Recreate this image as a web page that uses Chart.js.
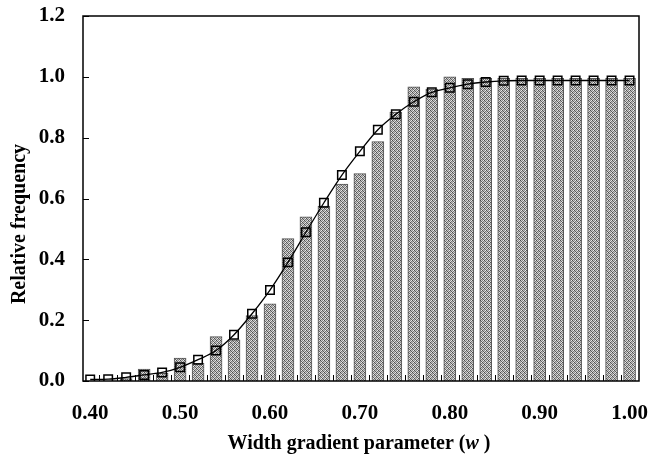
<!DOCTYPE html>
<html>
<head>
<meta charset="utf-8">
<script src="https://cdn.jsdelivr.net/npm/chart.js@4.4.1/dist/chart.umd.min.js"></script>
<style>
    html, body { margin: 0; padding: 0; background: #fff; }
    #wrap { width: 649px; height: 455px; }
</style>
</head>
<body>
<div id="wrap"><canvas id="myChart" width="649" height="455"></canvas></div>
<script>
// width gradient parameter w, one bar per class
const widths = [0.40, 0.42, 0.44, 0.46, 0.48, 0.50, 0.52, 0.54, 0.56, 0.58,
                0.60, 0.62, 0.64, 0.66, 0.68, 0.70, 0.72, 0.74, 0.76, 0.78,
                0.80, 0.82, 0.84, 0.86, 0.88, 0.90, 0.92, 0.94, 0.96, 0.98, 1.00];

// bars: observed relative frequency
const observed = [0.000, 0.000, 0.008, 0.039, 0.025, 0.075, 0.058, 0.146, 0.135, 0.215,
                  0.254, 0.468, 0.540, 0.575, 0.647, 0.682, 0.787, 0.884, 0.967, 0.960,
                  1.000, 0.995, 0.995, 0.995, 0.995, 0.995, 0.995, 0.995, 0.995, 0.995, 0.995];

// line with squares: fitted curve
const fitted = [0.005, 0.006, 0.012, 0.020, 0.028, 0.045, 0.070, 0.100, 0.152, 0.221,
                0.299, 0.390, 0.489, 0.586, 0.677, 0.755, 0.826, 0.877, 0.918, 0.949,
                0.964, 0.976, 0.983, 0.987, 0.988, 0.988, 0.988, 0.988, 0.988, 0.988, 0.988];

const xTickLabels = ['0.40', '0.50', '0.60', '0.70', '0.80', '0.90', '1.00'];
const yTicks = [0.0, 0.2, 0.4, 0.6, 0.8, 1.0, 1.2];

const yTitle = 'Relative frequency';
const xTitle = ['Width gradient parameter (', 'w', ' )'];

const FONT = '"Liberation Serif", "Times New Roman", serif';

const ctx = document.getElementById('myChart').getContext('2d');

// dithered grey for the bars
const shades = ['#4a4a4a', '#cfcfcf', '#8a8a8a', '#e8e8e8',
                '#b8b8b8', '#666666', '#dcdcdc', '#7c7c7c',
                '#909090', '#ececec', '#505050', '#c2c2c2',
                '#d6d6d6', '#767676', '#bcbcbc', '#5e5e5e'];
const pc = document.createElement('canvas');
pc.width = 4;
pc.height = 4;
const pctx = pc.getContext('2d');
shades.forEach((s, i) => {
    pctx.fillStyle = s;
    pctx.fillRect(i % 4, Math.floor(i / 4), 1, 1);
});
const barFill = ctx.createPattern(pc, 'repeat');

// frame, inward ticks and axis titles
const framePlugin = {
    id: 'frame',
    afterDraw(chart) {
        const c = chart.ctx;
        const a = chart.chartArea;
        const xs = chart.scales.x;
        const ys = chart.scales.y;
        c.save();
        c.strokeStyle = '#000';
        c.lineWidth = 1.5;
        c.strokeRect(a.left, a.top, a.right - a.left, a.bottom - a.top);

        c.lineWidth = 1;
        c.beginPath();
        for (let i = 0; i < widths.length - 1; i++) {
            const px = Math.round(xs.getPixelForValue((widths[i] + widths[i + 1]) / 2)) + 0.5;
            c.moveTo(px, a.bottom);
            c.lineTo(px, a.bottom - 6);
        }
        yTicks.forEach(v => {
            const py = Math.round(ys.getPixelForValue(v)) + 0.5;
            c.moveTo(a.left, py);
            c.lineTo(a.left + 6, py);
        });
        c.stroke();

        c.fillStyle = '#000';
        c.font = 'bold 20px ' + FONT;
        c.textAlign = 'center';
        c.textBaseline = 'middle';
        c.save();
        c.translate(20, 224);
        c.rotate(-Math.PI / 2);
        c.fillText(yTitle, 0, 0);
        c.restore();

        const fonts = ['bold 20px ' + FONT, 'italic bold 20px ' + FONT, 'bold 20px ' + FONT];
        let total = 0;
        const ws = xTitle.map((t, i) => {
            c.font = fonts[i];
            const w = c.measureText(t).width;
            total += w;
            return w;
        });
        let x = 359 - total / 2;
        c.textAlign = 'left';
        xTitle.forEach((t, i) => {
            c.font = fonts[i];
            c.fillText(t, x, 444);
            x += ws[i];
        });
        c.restore();
    }
};

const myChart = new Chart(ctx, {
    type: 'bar',
    data: {
        datasets: [{
            type: 'line',
            label: 'fitted',
            data: widths.map((w, i) => ({ x: w, y: fitted[i] })),
            borderColor: '#000',
            borderWidth: 1.3,
            cubicInterpolationMode: 'monotone',
            pointStyle: 'rect',
            pointRadius: 6,
            pointBorderWidth: 1.5,
            pointBorderColor: '#000',
            pointBackgroundColor: 'rgba(0,0,0,0)',
            fill: false,
            order: 0,
            xAxisID: 'x',
            yAxisID: 'y'
        }, {
            type: 'bar',
            label: 'observed',
            data: widths.map((w, i) => ({ x: w, y: observed[i] })),
            backgroundColor: barFill,
            borderColor: '#555',
            borderWidth: 1,
            barThickness: 12,
            order: 1,
            xAxisID: 'x',
            yAxisID: 'y'
        }]
    },
    options: {
        responsive: false,
        animation: false,
        devicePixelRatio: 1,
        layout: { padding: { left: 0, right: 10, top: 16, bottom: 0 } },
        plugins: {
            legend: { display: false },
            tooltip: { enabled: false }
        },
        scales: {
            x: {
                type: 'linear',
                min: 0.392,
                max: 1.0105,
                offset: false,
                grid: { display: false, drawTicks: false, offset: false },
                border: { display: false },
                afterBuildTicks: scale => {
                    scale.ticks = xTickLabels.map(v => ({ value: parseFloat(v) }));
                },
                afterFit: scale => {
                    scale.height = 74;
                    scale.paddingLeft = 0;
                    scale.paddingRight = 0;
                },
                ticks: {
                    padding: 20,
                    maxRotation: 0,
                    autoSkip: false,
                    color: '#000',
                    font: { family: FONT, size: 21, weight: 'bold' },
                    callback: v => v.toFixed(2)
                }
            },
            y: {
                type: 'linear',
                min: 0,
                max: 1.2,
                grid: { display: false, drawTicks: false },
                border: { display: false },
                afterFit: scale => {
                    scale.width = 83;
                    scale.paddingTop = 0;
                    scale.paddingBottom = 0;
                },
                afterBuildTicks: scale => {
                    scale.ticks = yTicks.map(v => ({ value: v }));
                },
                ticks: {
                    padding: 18,
                    color: '#000',
                    font: { family: FONT, size: 21, weight: 'bold' },
                    callback: v => v.toFixed(1)
                }
            }
        }
    },
    plugins: [framePlugin]
});
</script>
</body>
</html>
